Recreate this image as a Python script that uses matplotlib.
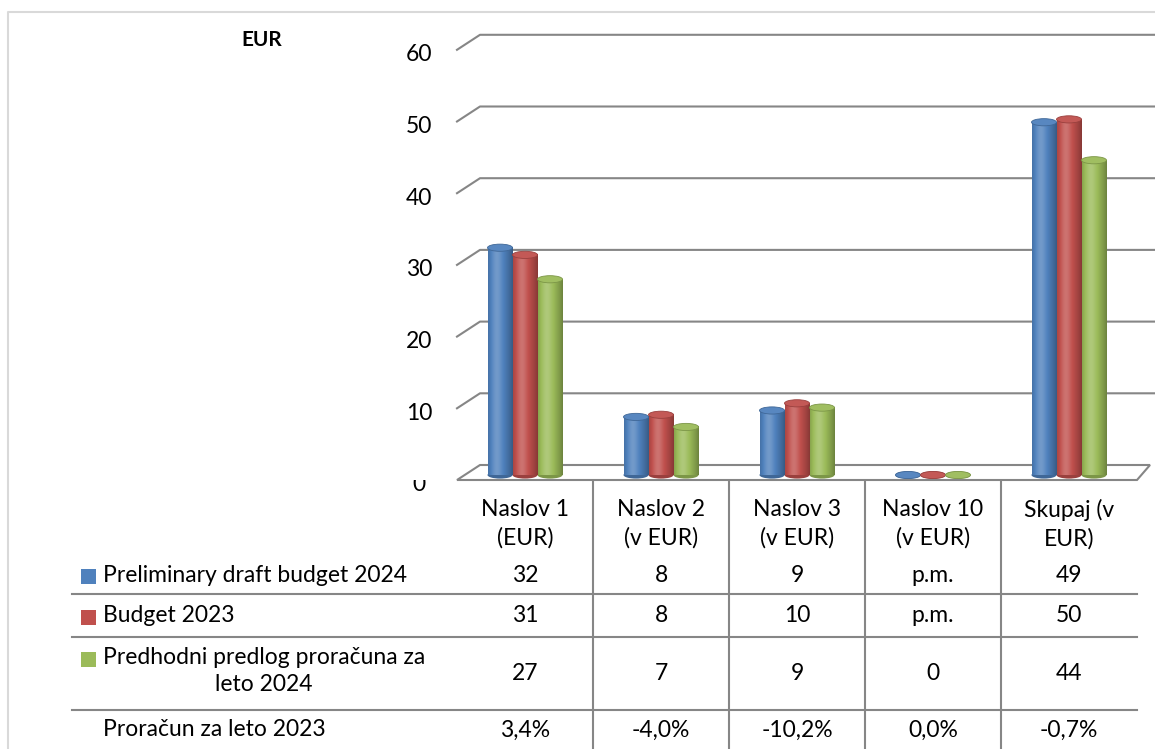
import matplotlib.pyplot as plt
import numpy as np
from matplotlib.colors import to_rgb
from matplotlib.lines import Line2D
from matplotlib.patches import Ellipse, Polygon, Rectangle
from matplotlib.transforms import IdentityTransform

plt.rcParams["font.family"] = ["Lato", "DejaVu Sans"]

# data
categories = [
    "Naslov 1\n(EUR)",
    "Naslov 2\n(v EUR)",
    "Naslov 3\n(v EUR)",
    "Naslov 10\n(v EUR)",
    "Skupaj (v\nEUR)",
]
series_names = [
    "Preliminary draft budget 2024",
    "Budget 2023",
    "Predhodni predlog proračuna za\nleto 2024",
]
draft_2024 = [31.7, 8.1, 9.0, 0.0, 49.2]
budget_2023 = [30.7, 8.4, 10.0, 0.0, 49.6]
prelim_2024 = [27.3, 6.7, 9.4, 0.0, 43.9]

table_draft = ["32", "8", "9", "p.m.", "49"]
table_budget = ["31", "8", "10", "p.m.", "50"]
table_prelim = ["27", "7", "9", "0", "44"]
change_label = "Proračun za leto 2023"
change_2023 = ["3,4%", "-4,0%", "-10,2%", "0,0%", "-0,7%"]

yticks = [0, 10, 20, 30, 40, 50, 60]
colors = ["#4F81BD", "#C0504D", "#9BBB59"]
grid_color = "#868686"
FS = 16.5

W, H = 1155, 749
fig = plt.figure(figsize=(W / 100, H / 100), dpi=100)

# x mapping: category columns 136 px wide, first one starting at 457 px
col_px, left_px = 136, 457
xlim = (-0.5 - left_px / col_px, -0.5 + (W - left_px) / col_px)
# y mapping: value 0 at 274 px from bottom, 7.17 px per unit
y0_px, unit_px = 274, 7.17
ylim = (-y0_px / unit_px, (H - y0_px) / unit_px)

ax = fig.add_axes([0, 0, 1, 1])
ax.set_axis_off()
tab_h = 269
tab = fig.add_axes([0, 0, 1, tab_h / H])
tab.set_axis_off()
tab.set_xlim(xlim)
tab.set_ylim(tab_h, 0)


def px2x(px):
    return (px - left_px) / col_px - 0.5


def shade(c, s):
    c = np.asarray(c)
    return c + (1 - c) * s if s > 0 else c * (1 + s)


def cylinder(xc, h, w, color, z):
    base = np.array(to_rgb(color))
    ell_h = 1.0
    ax.add_patch(Ellipse((xc, 0), w, ell_h, facecolor=shade(base, -0.2),
                         edgecolor="none", zorder=z))
    if h > 0:
        t = np.linspace(0, 1, 64)
        s = 0.2 * np.exp(-((t - 0.35) / 0.22) ** 2) - 0.3 * ((t - 0.4) / 0.6) ** 2
        img = np.array([shade(base, v) for v in s])
        ax.imshow(img[None, :, :], extent=(xc - w / 2, xc + w / 2, 0, h),
                  aspect="auto", interpolation="bilinear", zorder=z + 0.1)
    ax.add_patch(Ellipse((xc, h), w, ell_h, facecolor=shade(base, 0.05),
                         edgecolor=shade(base, -0.2), lw=0.6, zorder=z + 0.2))


series = [draft_2024, budget_2023, prelim_2024]
bar_w = 25 / col_px
offsets = [-bar_w, 0, bar_w]
x = np.arange(len(categories))
for i, vals in enumerate(series):
    for xi, v in zip(x, vals):
        cylinder(xi + offsets[i], v, bar_w, colors[i], 3 + i * 0.01)

ax.set_xlim(xlim)
ax.set_ylim(ylim)

# back wall gridlines, side wall diagonals and floor (3D look)
fig.canvas.draw()
trd = ax.transData
xmin_cat, xmax_cat = -0.5, len(categories) - 0.5
for v in yticks:
    X0, Y = trd.transform((xmin_cat, v))
    if v == 0:
        X1, _ = trd.transform((xmax_cat, v))
        floor = Polygon([(X0, Y - 5), (X0 + 23, Y + 10), (X1 + 13, Y + 10), (X1, Y - 5)],
                        closed=True, facecolor="white", edgecolor=grid_color, lw=1.5,
                        transform=IdentityTransform(), zorder=2)
        ax.add_patch(floor)
    else:
        ax.add_line(Line2D([X0, X0 + 23, W], [Y - 5, Y + 10, Y + 10], color=grid_color,
                           lw=1.5, transform=IdentityTransform(), zorder=1))
    lab = ax.annotate(str(v), (xmin_cat, v), xytext=(-38, -10), textcoords="offset pixels",
                      ha="center", va="center", fontsize=FS)
    if v == 0:
        lab.set_clip_box(tab.bbox)
        lab.set_clip_on(True)

fig.text(262 / W, 1 - 40 / H, "EUR", ha="center", va="center", fontsize=15, weight="bold")

# table
for xi, cat in zip(x, categories):
    tab.text(xi, 44, cat, ha="center", va="center", fontsize=FS, linespacing=1.4)
rows = [(95, table_draft), (135, table_budget), (193, table_prelim), (250, change_2023)]
for yy, vals in rows:
    for xi, t in zip(x, vals):
        tab.text(xi, yy, t, ha="center", va="center", fontsize=FS)

name_y = [95, 135, 191]
sq_y = [89, 130, 172]
for i, name in enumerate(series_names):
    tab.add_patch(Rectangle((px2x(81), sq_y[i]), 15 / col_px, 15, facecolor=colors[i],
                            edgecolor="none"))
    tab.text(px2x(103), name_y[i], name, ha="left", va="center", fontsize=FS,
             multialignment="center", linespacing=1.4)
tab.text(px2x(103), 250, change_label, ha="left", va="center", fontsize=FS)

for yy in [114, 157, 230]:
    tab.plot([px2x(72), xmax_cat], [yy, yy], color=grid_color, lw=1.5)
for xv in x[:-1] + 0.5:
    tab.plot([xv, xv], [0, tab_h], color=grid_color, lw=1.5)

# outer chart border
fig.add_artist(Line2D([8 / W, 8 / W, 1], [0, 1 - 12 / H, 1 - 12 / H],
                      transform=fig.transFigure, color="#D9D9D9", lw=1.5))

fig.savefig("out.png", dpi=100)
